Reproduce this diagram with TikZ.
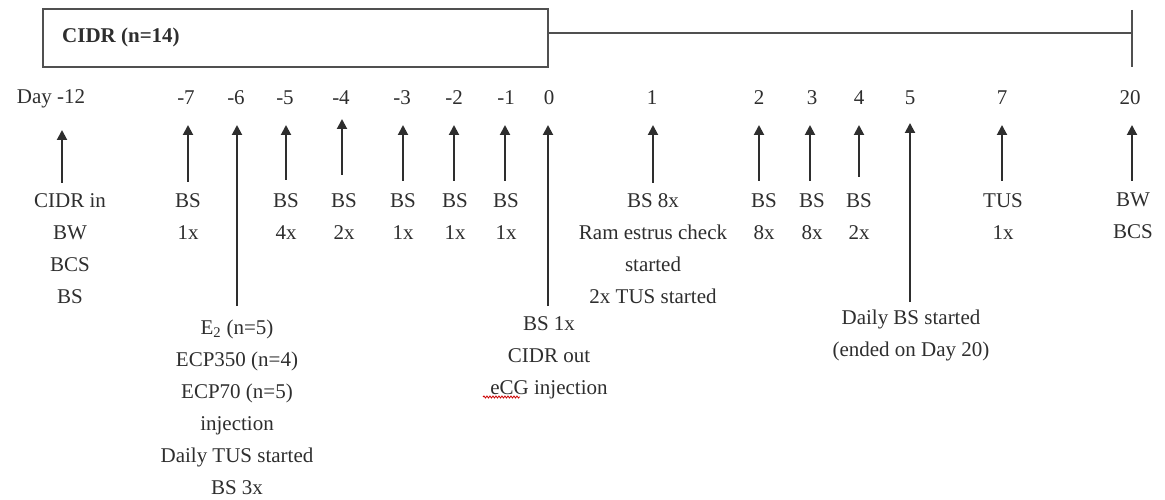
\documentclass[tikz,border=0pt]{standalone}
\usepackage{fontspec}
\setmainfont{Liberation Serif}
\usetikzlibrary{arrows.meta,decorations.pathmorphing}
\definecolor{ink}{HTML}{2E2E2E}
\definecolor{rule}{HTML}{505050}
\tikzset{
  lbl/.style={font=\fontsize{21}{32}\selectfont, text=ink, inner sep=0pt, align=center},
  daylbl/.style={lbl, anchor=base},
  evlbl/.style={lbl, anchor=north},
  arr/.style={draw=ink, line width=2pt, -{Triangle[width=10pt,length=10pt]}},
  boxline/.style={draw=rule, line width=2pt},
}
\begin{document}
\begin{tikzpicture}[x=1pt,y=-1pt]
\useasboundingbox (0,0) rectangle (1165,500);
% CIDR box and timeline
\draw[boxline] (43,9) rectangle (548,67);
\node[lbl, anchor=west, font=\fontsize{21}{32}\selectfont\bfseries] (cidr) at (62,37) {CIDR (n=14)};
\coordinate (lineA) at (548,33);
\coordinate (lineB) at (1132,33);
\coordinate (tickT) at (1132,10);
\coordinate (tickB) at (1132,67);
\draw[draw=rule, line width=2.5pt] (lineA) -- (lineB);
\draw[draw=rule, line width=2pt] (tickT) -- (tickB);
% Day labels
\node[daylbl] (dm12) at (51,104) {Day -12};
\node[daylbl] (dm7) at (186,105) {-7};
\node[daylbl] (dm6) at (236,105) {-6};
\node[daylbl] (dm5) at (285,105) {-5};
\node[daylbl] (dm4) at (341,105) {-4};
\node[daylbl] (dm3) at (402,105) {-3};
\node[daylbl] (dm2) at (454,105) {-2};
\node[daylbl] (dm1) at (506,105) {-1};
\node[daylbl] (d0) at (549,105) {0};
\node[daylbl] (d1) at (652,105) {1};
\node[daylbl] (d2) at (759,105) {2};
\node[daylbl] (d3) at (812,105) {3};
\node[daylbl] (d4) at (859,105) {4};
\node[daylbl] (d5) at (910,105) {5};
\node[daylbl] (d7) at (1002,105) {7};
\node[daylbl] (d20) at (1130,105) {20};
% arrow ends
\coordinate (tm12) at (62,130);  \coordinate (bm12) at (62,183);
\coordinate (tm7) at (188,125);  \coordinate (bm7) at (188,182);
\coordinate (tm6) at (237,125);  \coordinate (bm6) at (237,306);
\coordinate (tm5) at (286,125);  \coordinate (bm5) at (286,180);
\coordinate (tm4) at (342,119);  \coordinate (bm4) at (342,175);
\coordinate (tm3) at (403,125);  \coordinate (bm3) at (403,181);
\coordinate (tm2) at (454,125);  \coordinate (bm2) at (454,181);
\coordinate (tm1) at (505,125);  \coordinate (bm1) at (505,181);
\coordinate (t0) at (548,125);   \coordinate (b0) at (548,306);
\coordinate (t1) at (653,125);   \coordinate (b1) at (653,183);
\coordinate (t2) at (759,125);   \coordinate (b2) at (759,181);
\coordinate (t3) at (810,125);   \coordinate (b3) at (810,181);
\coordinate (t4) at (859,125);   \coordinate (b4) at (859,177);
\coordinate (t5) at (910,123);   \coordinate (b5) at (910,302);
\coordinate (t7) at (1002,125);  \coordinate (b7) at (1002,181);
\coordinate (t20) at (1132,125); \coordinate (b20) at (1132,181);
\foreach \n in {m12,m7,m6,m5,m4,m3,m2,m1,0,1,2,3,4,5,7,20}
  \draw[arr] (b\n) -- (t\n);
% event labels
\node[evlbl] (em12) at (70,193) {CIDR in\\BW\\BCS\\BS};
\node[evlbl] (em7) at (188,193) {BS\\1x};
\node[evlbl] (em6) at (237,320) {E\textsubscript{2} (n=5)\\ECP350 (n=4)\\ECP70 (n=5)\\injection\\Daily TUS started\\BS 3x};
\node[evlbl] (em5) at (286,193) {BS\\4x};
\node[evlbl] (em4) at (344,193) {BS\\2x};
\node[evlbl] (em3) at (403,193) {BS\\1x};
\node[evlbl] (em2) at (455,193) {BS\\1x};
\node[evlbl] (em1) at (506,193) {BS\\1x};
\node[evlbl] (e0) at (549,316) {BS 1x\\CIDR out\\eCG injection};
\node[evlbl] (e1) at (653,193) {BS 8x\\Ram estrus check\\started\\2x TUS started};
\node[evlbl] (e2) at (764,193) {BS\\8x};
\node[evlbl] (e3) at (812,193) {BS\\8x};
\node[evlbl] (e4) at (859,193) {BS\\2x};
\node[evlbl] (e5) at (911,310) {Daily BS started\\(ended on Day 20)};
\node[evlbl] (e7) at (1003,193) {TUS\\1x};
\node[evlbl] (e20) at (1133,193) {BW\\BCS};
% spell-check squiggle under eCG
\coordinate (sqA) at (483,397);
\coordinate (sqB) at (520,397);
\draw[red!80!black, line width=0.8pt, decorate, decoration={snake, amplitude=1pt, segment length=3pt}] (sqA) -- (sqB);
\end{tikzpicture}
\end{document}
